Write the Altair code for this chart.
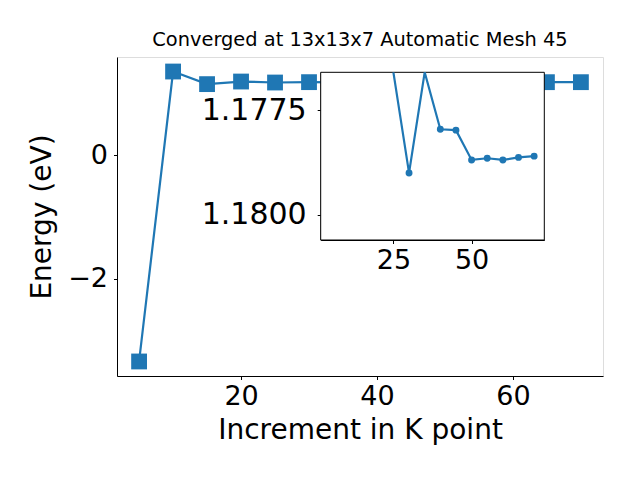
import altair as alt
import pandas as pd

# Data
kpoints = [5, 10, 15, 20, 25, 30, 35, 40, 45, 50, 55, 60, 65, 70]
energy = [-3.341, 1.351, 1.147, 1.189, 1.1730, 1.1790, 1.1762, 1.17796,
          1.17798, 1.17869, 1.17865, 1.17869, 1.17863, 1.17860]
inset_from = 25
main_x_ticks = [20, 40, 60]
main_y_ticks = [-2, 0]
inset_x_ticks = [25, 50]
inset_y_ticks = [1.1775, 1.1800]
inset_y_domain = [1.17660, 1.18060]
x_domain = [1.75, 73.25]
y_domain = [-3.576, 1.586]

title_text = "Converged at 13x13x7 Automatic Mesh 45"
x_title = "Increment in K point"
y_title = "Energy (eV)"

BLUE = "#1f77b4"
FONT = "DejaVu Sans"
W, H = 486, 319

df = pd.DataFrame({"k": kpoints, "e": energy})
df_inset = df[df["k"] >= inset_from].reset_index(drop=True)


def axis_style(label_size=27, pad=4):
    return dict(grid=False, tickSize=3.5, tickColor="black", domainColor="black",
                labelFontSize=label_size, labelColor="black", labelFont=FONT,
                titleFontSize=28, titleColor="black", titleFont=FONT,
                titleFontWeight="normal", labelPadding=pad)


mx = alt.X("k:Q", scale=alt.Scale(domain=x_domain, nice=False, zero=False),
           axis=alt.Axis(values=main_x_ticks, title=x_title, titlePadding=7,
                         **axis_style(27, 4)))
my = alt.Y("e:Q", scale=alt.Scale(domain=y_domain, nice=False, zero=False),
           axis=alt.Axis(values=main_y_ticks, title=y_title, titlePadding=11,
                         **axis_style(27, 6)))

main_line = alt.Chart(df).mark_line(color=BLUE, strokeWidth=2.2).encode(x=mx, y=my)
main_pts = alt.Chart(df).mark_point(shape="square", filled=True, size=250, color=BLUE,
                                    opacity=1).encode(x=mx, y=my)
main_layer = alt.layer(main_line, main_pts)

# Inset placement in pixels inside the plot area
ix_range = [203.7, 427.3]
iy_range = [15.3, 183.0]

ix = alt.X("k:Q", scale=alt.Scale(domain=x_domain, range=ix_range, nice=False, zero=False),
           axis=alt.Axis(orient="bottom", offset=iy_range[1] - H, values=inset_x_ticks,
                         title=None, **axis_style(27, 4)))
iy = alt.Y("e:Q", scale=alt.Scale(domain=inset_y_domain, range=iy_range, nice=False,
                                  zero=False, clamp=True),
           axis=alt.Axis(orient="left", offset=-ix_range[0], values=inset_y_ticks,
                         format=".4f", title=None, **axis_style(30, 11)))

frame = alt.Chart(pd.DataFrame({"a": [0]})).mark_rect(
    fill="white", stroke="black", strokeWidth=1
).encode(
    x=alt.datum(x_domain[0]), x2=alt.datum(x_domain[1]),
    y=alt.datum(inset_y_domain[0]), y2=alt.datum(inset_y_domain[1]),
)
inset_line = alt.Chart(df_inset).mark_line(color=BLUE, strokeWidth=2.2).encode(x=ix, y=iy)
inset_pts = alt.Chart(df_inset).transform_filter(
    (alt.datum.e >= inset_y_domain[0]) & (alt.datum.e <= inset_y_domain[1])
).mark_circle(size=48, color=BLUE, opacity=1).encode(x=ix, y=iy)
inset_layer = alt.layer(frame, inset_line, inset_pts)

chart = alt.layer(main_layer, inset_layer).resolve_scale(
    x="independent", y="independent"
).resolve_axis(
    x="independent", y="independent"
).properties(
    width=W, height=H,
    title=alt.TitleParams(title_text, fontSize=19.4, font=FONT, fontWeight="normal",
                          color="black", anchor="middle", offset=7),
    autosize=alt.AutoSizeParams(type="none"),
    padding={"left": 109, "top": 49, "right": 29, "bottom": 104},
).configure_view(stroke="black", strokeWidth=1).configure(background="white")

chart.save("out.html", embed_options={"renderer": "svg", "actions": False})
